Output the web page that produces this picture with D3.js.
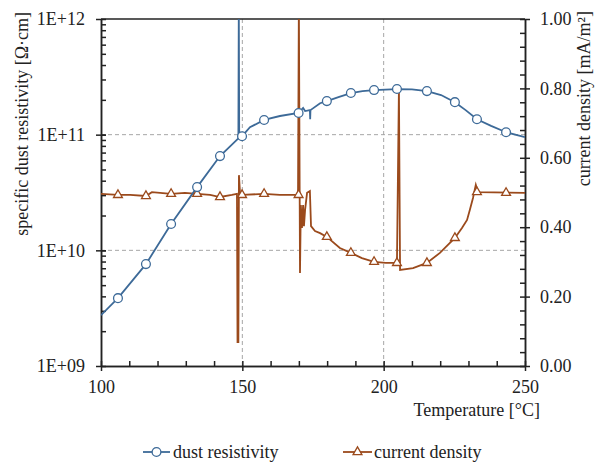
<!DOCTYPE html>
<html>
<head>
<meta charset="utf-8">
<script src="https://cdn.jsdelivr.net/npm/d3@7"></script>
<style>
  body { margin: 0; background: #fff; }
  svg text { font-family: "Liberation Serif", "Times New Roman", serif; fill: #222; }
  .axis path, .axis line { stroke: #222; stroke-width: 1.5; }
  .axis text { font-size: 18px; fill: #222; }
</style>
</head>
<body>
<script>
// dust resistivity line
var resTemp = [100, 106, 115.9, 124.8, 134, 142.1, 148.6, 148.75, 148.9, 149.9, 152.7, 157.7, 163.3, 169.9,
  171.5, 172.2, 173.9, 174.0, 174.1, 177.5, 179.9, 184, 188.4, 192.5, 196.6, 204.7, 210, 215.3, 220.3,
  225.2, 229, 233, 238, 243.3, 250];
var resValue = [2.75e9, 3.86e9, 7.6e9, 1.69e10, 3.52e10, 6.53e10, 9.3e10, 1.3e12, 9.4e10, 9.7e10, 1.16e11, 1.34e11, 1.45e11, 1.54e11,
  1.70e11, 1.60e11, 1.63e11, 1.36e11, 1.63e11, 1.87e11, 1.95e11, 2.11e11, 2.29e11, 2.38e11, 2.43e11, 2.48e11, 2.46e11, 2.38e11, 2.2e11,
  1.91e11, 1.63e11, 1.36e11, 1.19e11, 1.05e11, 9.5e10];

// current density line
var curTemp = [100, 106, 110.3, 115.9, 118, 124.8, 129.7, 134, 138.6, 142.1, 146.3, 148.1, 148.3, 148.6, 148.8, 149.2, 149.9,
  157.7, 163.3, 169.7, 170.0, 170.4, 170.7, 171.1, 171.5, 171.8, 172.2, 172.9, 173.9, 174.3, 175.7, 177.5,
  179.9, 184.5, 188.4, 192.3, 196.6, 200.8, 204.7, 205.4, 205.8, 210.4, 215.3, 219.9, 225.2, 227.7, 229.5,
  230.5, 231.6, 232.6, 233.4, 250];
var curValue = [0.496, 0.493, 0.493, 0.490, 0.501, 0.496, 0.499, 0.496, 0.493, 0.487, 0.493, 0.496, 0.069, 0.069, 0.55, 0.496, 0.493,
  0.496, 0.493, 0.493, 1.05, 0.268, 0.464, 0.398, 0.464, 0.403, 0.450, 0.499, 0.504, 0.403, 0.389, 0.383,
  0.372, 0.340, 0.326, 0.311, 0.300, 0.297, 0.297, 0.801, 0.277, 0.282, 0.297, 0.326, 0.369, 0.398, 0.421,
  0.450, 0.484, 0.522, 0.501, 0.499];

// markers
var markerTemps = [106, 115.9, 124.8, 134, 142.1, 149.9, 157.7, 169.9, 179.9, 188.4, 196.6, 204.7, 215.3, 225.2, 233, 243.3];
var resMarkers = [3.86e9, 7.6e9, 1.69e10, 3.52e10, 6.53e10, 9.7e10, 1.34e11, 1.54e11, 1.95e11, 2.29e11, 2.43e11, 2.48e11, 2.38e11, 1.91e11, 1.36e11, 1.05e11];
var curMarkers = [0.493, 0.490, 0.496, 0.496, 0.487, 0.493, 0.496, 0.493, 0.372, 0.326, 0.300, 0.297, 0.297, 0.369, 0.501, 0.499];

// ticks
var tempTicks = [100, 150, 200, 250];
var resTicks = [1e9, 1e10, 1e11, 1e12];
var curTicks = [0, 0.2, 0.4, 0.6, 0.8, 1.0];
var tempGrid = [150, 200];
var resGrid = [1e10, 1e11];

var blue = "#3d6a98", brown = "#9b4a1c";

var margin = {top: 19, left: 101},
    width = 424,
    height = 347;

var svg = d3.select("body").append("svg")
    .attr("width", 602)
    .attr("height", 464);

var plot = svg.append("g")
    .attr("transform", "translate(" + margin.left + "," + margin.top + ")");

var x = d3.scaleLinear().domain([100, 250]).range([0, width]);
var yRes = d3.scaleLog().domain([1e9, 1e12]).range([height, 0]);
var yCur = d3.scaleLinear().domain([0, 1]).range([height, 0]);

// gridlines
var grid = plot.append("g").attr("stroke", "#a6a6a6").attr("stroke-width", 1).attr("stroke-dasharray", "4,3");
tempGrid.forEach(function(t) {
    grid.append("line").attr("x1", x(t)).attr("x2", x(t)).attr("y1", 0).attr("y2", height);
});
resGrid.forEach(function(v) {
    grid.append("line").attr("x1", 0).attr("x2", width).attr("y1", yRes(v)).attr("y2", yRes(v));
});

// top frame
plot.append("line").attr("x1", 0).attr("x2", width).attr("y1", 0).attr("y2", 0)
    .attr("stroke", "#222").attr("stroke-width", 1.5);

// minor tick values
var logMinor = [];
[1e9, 1e10, 1e11].forEach(function(d) {
    for (var k = 1; k <= 10; k++) logMinor.push(d * k);
});
var curMinor = d3.range(0, 26).map(function(i) { return i * 0.04; });
var tempMinor = d3.range(100, 251, 10);

// left axis
plot.append("g").attr("class", "axis")
    .call(d3.axisRight(yRes).tickValues(logMinor).tickSize(5).tickSizeOuter(0).tickFormat(""));
plot.append("g").attr("class", "axis")
    .call(d3.axisLeft(yRes).tickValues(resTicks).tickSize(5).tickSizeOuter(0).tickPadding(11)
        .tickFormat(function(d) { return "1E+" + d3.format("02")(Math.round(Math.log10(d))); }));

// right axis
plot.append("g").attr("class", "axis").attr("transform", "translate(" + width + ",0)")
    .call(d3.axisLeft(yCur).tickValues(curMinor).tickSize(5).tickSizeOuter(0).tickFormat(""));
plot.append("g").attr("class", "axis").attr("transform", "translate(" + width + ",0)")
    .call(d3.axisRight(yCur).tickValues(curTicks).tickSize(5).tickSizeOuter(0).tickPadding(10).tickFormat(d3.format(".2f")));

// bottom axis
plot.append("g").attr("class", "axis").attr("transform", "translate(0," + height + ")")
    .call(d3.axisTop(x).tickValues(tempMinor).tickSize(5).tickSizeOuter(0).tickFormat(""));
plot.append("g").attr("class", "axis").attr("transform", "translate(0," + height + ")")
    .call(d3.axisBottom(x).tickValues(tempTicks).tickSize(5).tickSizeOuter(0).tickPadding(9));

// clip
plot.append("clipPath").attr("id", "clip")
    .append("rect").attr("width", width).attr("height", height);

var lines = plot.append("g").attr("clip-path", "url(#clip)");

var resData = resTemp.map(function(t, i) { return {t: t, v: resValue[i]}; });
var curData = curTemp.map(function(t, i) { return {t: t, v: curValue[i]}; });

lines.append("path").datum(curData)
    .attr("fill", "none").attr("stroke", brown).attr("stroke-width", 1.8)
    .attr("d", d3.line().x(function(d) { return x(d.t); }).y(function(d) { return yCur(d.v); }));

lines.append("path").datum(resData)
    .attr("fill", "none").attr("stroke", blue).attr("stroke-width", 1.8)
    .attr("d", d3.line().x(function(d) { return x(d.t); }).y(function(d) { return yRes(d.v); }));

var tri = d3.symbol().type(d3.symbolTriangle).size(34);

lines.selectAll(".tri").data(markerTemps).enter().append("path")
    .attr("d", tri)
    .attr("transform", function(t, i) { return "translate(" + x(t) + "," + yCur(curMarkers[i]) + ")"; })
    .attr("fill", "#fff").attr("stroke", brown).attr("stroke-width", 1.3);

lines.selectAll(".circ").data(markerTemps).enter().append("circle")
    .attr("cx", function(t) { return x(t); })
    .attr("cy", function(t, i) { return yRes(resMarkers[i]); })
    .attr("r", 4.4)
    .attr("fill", "#fff").attr("stroke", blue).attr("stroke-width", 1.3);

// axis titles
svg.append("text")
    .attr("transform", "translate(28,12) rotate(-90)")
    .attr("text-anchor", "end").attr("font-size", 18)
    .text("specific dust resistivity [\u03A9\u00B7cm]");

svg.append("text")
    .attr("transform", "translate(590,11) rotate(-90)")
    .attr("text-anchor", "end").attr("font-size", 18)
    .text("current density [mA/m\u00B2]");

svg.append("text")
    .attr("x", 540).attr("y", 416)
    .attr("text-anchor", "end").attr("font-size", 18)
    .text("Temperature [\u00B0C]");

// legend
var legend = svg.append("g");
var l1 = legend.append("g").attr("transform", "translate(143,452)");
l1.append("line").attr("x1", 0).attr("x2", 27).attr("stroke", blue).attr("stroke-width", 1.8);
l1.append("circle").attr("cx", 13.5).attr("r", 4.4).attr("fill", "#fff").attr("stroke", blue).attr("stroke-width", 1.3);
l1.append("text").attr("x", 30).attr("y", 6).attr("font-size", 18).text("dust resistivity");

var l2 = legend.append("g").attr("transform", "translate(343,452)");
l2.append("line").attr("x1", 0).attr("x2", 29).attr("stroke", brown).attr("stroke-width", 1.8);
l2.append("path").attr("d", tri).attr("transform", "translate(14.5,0)")
    .attr("fill", "#fff").attr("stroke", brown).attr("stroke-width", 1.3);
l2.append("text").attr("x", 31).attr("y", 6).attr("font-size", 18).text("current density");
</script>
</body>
</html>
